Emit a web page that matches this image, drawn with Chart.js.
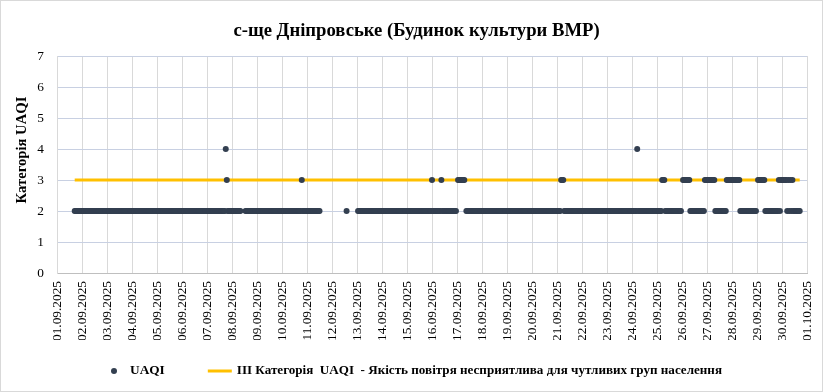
<!DOCTYPE html>
<html>
<head>
<meta charset="utf-8">
<script src="https://cdn.jsdelivr.net/npm/chart.js@4.4.1/dist/chart.umd.min.js"></script>
<style>
  html, body { margin: 0; padding: 0; background: #fff; }
  canvas { display: block; }
</style>
</head>
<body>
<canvas id="myChart" width="823" height="392"></canvas>
<script>
const chartTitle = 'с-ще Дніпровське (Будинок культури ВМР)';
const yTitle = 'Категорія UAQI';

const dateLabels = [
  '01.09.2025', '02.09.2025', '03.09.2025', '04.09.2025', '05.09.2025', '06.09.2025',
  '07.09.2025', '08.09.2025', '09.09.2025', '10.09.2025', '11.09.2025', '12.09.2025',
  '13.09.2025', '14.09.2025', '15.09.2025', '16.09.2025', '17.09.2025', '18.09.2025',
  '19.09.2025', '20.09.2025', '21.09.2025', '22.09.2025', '23.09.2025', '24.09.2025',
  '25.09.2025', '26.09.2025', '27.09.2025', '28.09.2025', '29.09.2025', '30.09.2025',
  '01.10.2025'
];

const yTicks = [0, 1, 2, 3, 4, 5, 6, 7];

// hourly UAQI category, one string per day (hours 00..23), '-' = no data
const hourlyUaqi = [
  '-----------------2222222', // 01.09
  '222222222222222222222222', // 02.09
  '222222222222222222222222', // 03.09
  '222222222222222222222222', // 04.09
  '222222222222222222222222', // 05.09
  '222222222222222222222222', // 06.09
  '222222222222222222432222', // 07.09
  '222222222----22222222222', // 08.09
  '222222222222222222222222', // 09.09
  '222222222222222222232222', // 10.09
  '2222222222222-----------', // 11.09
  '--------------2---------', // 12.09
  '-22222222222222222222222', // 13.09
  '222222222222222222222222', // 14.09
  '222222222222222222222222', // 15.09
  '322222222322222222222222', // 16.09
  '-3333333-222222222222222', // 17.09
  '222222222222222222222222', // 18.09
  '222222222222222222222222', // 19.09
  '222222222222222222222222', // 20.09
  '222233322222222222222222', // 21.09
  '222222222222222222222222', // 22.09
  '222222222222222222222222', // 23.09
  '222224222222222222222222', // 24.09
  '222223332222222222222222', // 25.09
  '-33333332222222222222233', // 26.09
  '333333332222222222233333', // 27.09
  '333333332222222222222222', // 28.09
  '-33333332222222222222323', // 29.09
  '333332323232222222------'  // 30.09
];

const thresholdCategory = 3;
const seriesNames = [
  'UAQI',
  'ІІІ Категорія  UAQI  - Якість повітря несприятлива для чутливих груп населення'
];

const dotColor = '#333f50';
const lineColor = '#ffc000';

// build scatter points: x = day offset from 01.09 (hour / 24)
let uaqiPoints = [];
hourlyUaqi.forEach(function (day, d) {
  day.split('').forEach(function (c, h) {
    if (c !== '-') uaqiPoints.push({ x: d + h / 24, y: Number(c) });
  });
});

const firstX = uaqiPoints[0].x;
const lastX = uaqiPoints[uaqiPoints.length - 1].x;
const thresholdPoints = [
  { x: firstX, y: thresholdCategory },
  { x: lastX, y: thresholdCategory }
];

const serif = '"Liberation Serif", "Times New Roman", serif';
const centerX = 416.5;

const frame = {
  id: 'frame',
  beforeDraw(chart) {
    const c = chart.ctx;
    c.save();
    c.fillStyle = '#fff';
    c.fillRect(0, 0, chart.width, chart.height);
    c.strokeStyle = '#d9d9d9';
    c.lineWidth = 1;
    c.strokeRect(0.5, 0.5, chart.width - 1, chart.height - 1);
    c.restore();
  }
};

// title, y axis title and legend, placed like the Excel original
const texts = {
  id: 'texts',
  afterDraw(chart) {
    const c = chart.ctx;
    c.save();
    c.fillStyle = '#000';
    c.textBaseline = 'middle';

    c.font = 'bold 18.67px ' + serif;
    c.textAlign = 'center';
    c.fillText(chartTitle, centerX, 31);

    c.save();
    c.translate(22, 150);
    c.rotate(-Math.PI / 2);
    c.font = 'bold 14.67px ' + serif;
    c.fillText(yTitle, 0, 0);
    c.restore();

    const y = 371;
    c.font = 'bold 13.33px ' + serif;
    c.textAlign = 'left';
    const w1 = c.measureText(seriesNames[0]).width;
    c.font = 'bold 13.1px ' + serif;
    const w2 = c.measureText(seriesNames[1]).width;
    const total = 6 + 13 + w1 + 43 + 24 + 5 + w2;
    let x = centerX - total / 2;
    c.beginPath();
    c.arc(x + 3, y, 3, 0, Math.PI * 2);
    c.fillStyle = dotColor;
    c.fill();
    c.fillStyle = '#000';
    x += 19;
    c.font = 'bold 13.33px ' + serif;
    c.fillText(seriesNames[0], x, y);
    x += w1 + 43;
    c.strokeStyle = lineColor;
    c.lineWidth = 3;
    c.beginPath();
    c.moveTo(x, y);
    c.lineTo(x + 24, y);
    c.stroke();
    x += 29;
    c.font = 'bold 13.1px ' + serif;
    c.fillText(seriesNames[1], x, y);
    c.restore();
  }
};

const ctx = document.getElementById('myChart');

new Chart(ctx, {
  type: 'scatter',
  data: {
    datasets: [
      {
        label: seriesNames[0],
        data: uaqiPoints,
        backgroundColor: dotColor,
        borderWidth: 0,
        pointRadius: 3,
        order: 0
      },
      {
        label: seriesNames[1],
        data: thresholdPoints,
        showLine: true,
        borderColor: lineColor,
        borderWidth: 3,
        pointRadius: 0,
        order: 1
      }
    ]
  },
  options: {
    responsive: false,
    animation: false,
    layout: { padding: { left: 0, right: 16, top: 56, bottom: 52 } },
    plugins: {
      legend: { display: false },
      tooltip: { enabled: false },
      title: { display: false }
    },
    scales: {
      x: {
        type: 'linear',
        min: 0,
        max: dateLabels.length - 1,
        afterBuildTicks(scale) {
          scale.ticks = dateLabels.map(function (_, i) { return { value: i }; });
        },
        afterFit(scale) {
          scale.height = 67;
          scale.paddingLeft = 0;
          scale.paddingRight = 0;
        },
        ticks: {
          autoSkip: false,
          maxRotation: 90,
          minRotation: 90,
          padding: 8,
          color: '#000',
          font: { family: serif, size: 13.33 },
          callback: function (v) { return dateLabels[v]; }
        },
        grid: { color: '#d9d9d9', drawTicks: false },
        border: { color: '#bfbfbf' }
      },
      y: {
        min: yTicks[0],
        max: yTicks[yTicks.length - 1],
        afterBuildTicks(scale) {
          scale.ticks = yTicks.map(function (v) { return { value: v }; });
        },
        afterFit(scale) {
          scale.width = 57;
          scale.paddingTop = 0;
          scale.paddingBottom = 0;
        },
        ticks: {
          padding: 13,
          color: '#000',
          font: { family: serif, size: 13.33 }
        },
        grid: {
          color: function (c) { return c.index === 0 ? '#bfbfbf' : '#c8d0e2'; },
          drawTicks: false
        },
        border: { color: '#d9d9d9' }
      }
    }
  },
  plugins: [frame, texts]
});
</script>
</body>
</html>
